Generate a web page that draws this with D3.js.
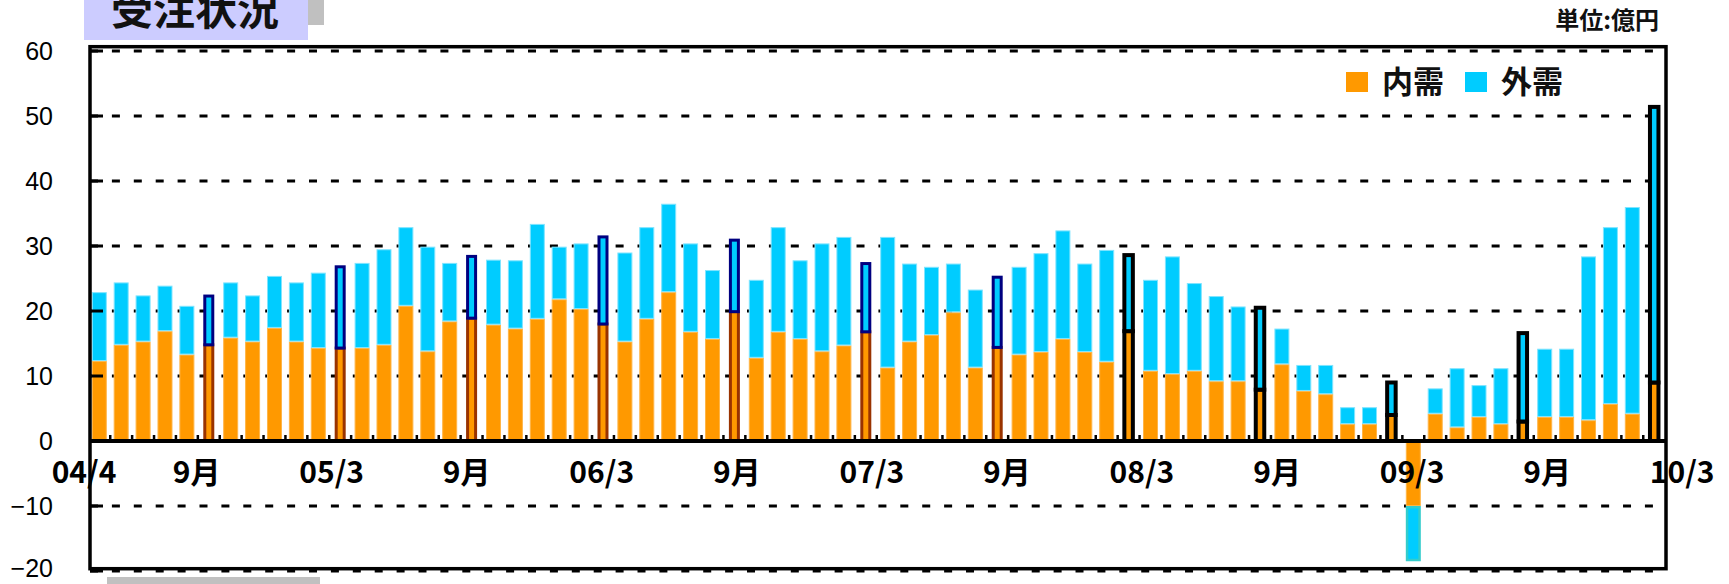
<!DOCTYPE html>
<html><head><meta charset="utf-8">
<script src="https://cdn.jsdelivr.net/npm/d3@7"></script>
<style>body{margin:0;background:#fff;} svg{display:block;background:#fff;}</style>
</head><body>
<svg id="c" width="1729" height="584"></svg>
<script>
// ---- data (億円), monthly Apr 2004 .. Mar 2010 ----
const domestic = [12.3,14.8,15.3,16.9,13.3,14.8,15.9,15.3,17.4,15.3,14.3,14.3,
  14.3,14.8,20.8,13.8,18.4,18.9,17.9,17.3,18.8,21.8,20.3,18.0,
  15.3,18.8,22.9,16.8,15.7,19.9,12.8,16.8,15.7,13.8,14.7,16.8,
  11.3,15.3,16.3,19.8,11.3,14.4,13.3,13.7,15.7,13.7,12.2,16.9,
  10.8,10.3,10.8,9.2,9.2,7.9,11.8,7.7,7.2,2.6,2.6,4.0,
  -10.0,4.2,2.1,3.7,2.6,3.0,3.7,3.7,3.2,5.7,4.2,9.0];
const foreign = [10.6,9.6,7.1,7.0,7.5,7.5,8.5,7.1,8.0,9.1,11.6,12.5,
  13.1,14.7,12.1,16.1,9.0,9.5,10.0,10.5,14.6,8.1,10.1,13.4,
  13.7,14.1,13.6,13.6,10.6,11.0,12.0,16.1,12.1,16.6,16.7,10.5,
  20.1,12.0,10.5,7.5,12.0,10.8,13.5,15.2,16.7,13.6,17.2,11.7,
  14.0,18.1,13.5,13.1,11.5,12.6,5.5,4.0,4.5,2.6,2.6,5.0,
  -8.5,3.9,9.1,4.9,8.6,13.6,10.5,10.5,25.2,27.2,31.8,42.4];
const seriesNames = ["内需", "外需"];
const tickIndex = [0,5,11,17,23,29,35,41,47,53,59,65,71];
const tickLabels = ["04/4","9月","05/3","9月","06/3","9月","07/3","9月","08/3","9月","09/3","9月","10/3"];
const yTicks = [-20,-10,0,10,20,30,40,50,60];
const months = d3.timeMonth.range(new Date(2004,3,1), new Date(2010,3,1));

const colors = {"内需": "#FF9900", "外需": "#00CCFF"};
const edge = {"内需": "#FFB547", "外需": "#7FE4FF"};

const svg = d3.select("#c");

// ---- title & unit ----
svg.append("rect").attr("x",308).attr("y",0).attr("width",16).attr("height",25).attr("fill","#C0C0C0");
svg.append("rect").attr("x",84).attr("y",0).attr("width",224).attr("height",40).attr("fill","#CCCCFF");
svg.append("text").attr("x",111).attr("y",25).text("受注状況")
  .attr("font-family","'Noto Sans CJK JP'").attr("font-weight",700).attr("font-size",42).attr("fill","#111");
svg.append("rect").attr("x",107).attr("y",577).attr("width",213).attr("height",7).attr("fill","#C0C0C0");
svg.append("text").attr("x",1659).attr("y",29).attr("text-anchor","end").text("単位:億円")
  .attr("font-family","'Noto Sans CJK JP'").attr("font-weight",700).attr("font-size",24).attr("fill","#111");

// ---- scales ----
const x = d3.scaleBand().domain(d3.range(months.length)).range([88.5,1665]).paddingInner(0.315).paddingOuter(0.15);
const y = d3.scaleLinear().domain([-20,60]).range([571,51]);
const labelX = d3.scaleLinear().domain([0, months.length-1]).range([83.5,1681.7]);
const L = 90, R = 1666;

// ---- gridlines (behind bars) ----
svg.append("g").selectAll("line").data(yTicks.filter(v => v !== 0)).join("line")
  .attr("x1",L).attr("x2",R).attr("y1",d=>y(d)).attr("y2",d=>y(d))
  .attr("stroke","#000").attr("stroke-width",3)
  .attr("stroke-dasharray",`8 ${x.step()-8}`);

// ---- stacked bars ----
const rows = months.map((m,i)=>({i, m, "内需": domestic[i], "外需": foreign[i]}));
const stack = d3.stack().keys(seriesNames).offset(d3.stackOffsetDiverging)(rows);
const isHalf = d => d.data.m.getMonth() === 8 || d.data.m.getMonth() === 2;
const isLate = d => d.data.m >= new Date(2008,2,1);

stack.forEach(layer => {
  const key = layer.key;
  svg.append("g").selectAll("rect").data(layer).join("rect")
    .each(function(d){
      const sel = d3.select(this);
      const top = y(Math.max(d[0],d[1])), bot = y(Math.min(d[0],d[1]));
      const cx = x(d.data.i) + x.bandwidth()/2;
      if (isHalf(d)) {
        const late = isLate(d);
        const w = late ? 8.5 : 8, sw = late ? 4 : 3;
        const sc = late ? "#000" : (key === "外需" ? "#000080" : "#993300");
        sel.attr("x",cx-w/2).attr("width",w)
          .attr("y",top).attr("height",Math.max(0,bot-top))
          .attr("fill",colors[key]).attr("stroke",sc).attr("stroke-width",sw);
      } else {
        const neg = d.data[key] < 0 && key === "外需";
        const sw = neg ? 2.5 : 1;
        sel.attr("x",x(d.data.i)+sw/2).attr("width",x.bandwidth()-sw)
          .attr("y",top+sw/2).attr("height",Math.max(0,bot-top-sw))
          .attr("fill",colors[key]).attr("stroke",neg ? "#33CCCC" : edge[key]).attr("stroke-width",sw);
      }
    });
});

// ---- zero axis with category ticks ----
svg.append("line").attr("x1",L).attr("x2",R).attr("y1",y(0)).attr("y2",y(0)).attr("stroke","#000").attr("stroke-width",4);
svg.append("g").selectAll("line").data(d3.range(1, months.length)).join("line")
  .attr("x1",d=>x(d)-(x.step()-x.bandwidth())/2).attr("x2",d=>x(d)-(x.step()-x.bandwidth())/2)
  .attr("y1",y(0)).attr("y2",y(0)-6).attr("stroke","#000").attr("stroke-width",2.5);

// ---- inward y ticks ----
svg.append("g").selectAll("line").data(yTicks).join("line")
  .attr("x1",L).attr("x2",L+13).attr("y1",d=>y(d)).attr("y2",d=>y(d))
  .attr("stroke","#000").attr("stroke-width",3);

// ---- frame ----
svg.append("rect").attr("x",L).attr("y",y(60)-4.3).attr("width",R-L).attr("height",(y(-20)-2.3)-(y(60)-4.3))
  .attr("fill","none").attr("stroke","#000").attr("stroke-width",3.5);

// ---- y labels ----
const yAxis = svg.append("g").attr("transform",`translate(53,0)`)
  .call(d3.axisLeft(y).tickValues(yTicks).tickSize(0).tickPadding(0).tickFormat(d3.format("d")));
yAxis.select(".domain").remove();
yAxis.selectAll("text").attr("font-family","'Liberation Sans', Arial, sans-serif").attr("font-size",25).attr("fill","#000");
yAxis.selectAll(".tick").filter(d => d === -20).select("text").attr("dy","0.2em");

// ---- x labels ----
const xAxis = svg.append("g").attr("transform","translate(0,483)")
  .call(d3.axisBottom(labelX).tickValues(tickIndex).tickSize(0).tickPadding(0).tickFormat((d,i)=>tickLabels[i]));
xAxis.select(".domain").remove();
xAxis.selectAll("text").attr("y",0).attr("dy",null)
  .attr("font-family","'Noto Sans CJK JP'").attr("font-weight",700).attr("font-size",30).attr("fill","#000");

// ---- legend ----
const lg = svg.append("g").selectAll("g").data(seriesNames).join("g")
  .attr("transform",(d,i)=>`translate(${1346+i*119},0)`);
lg.append("rect").attr("x",0).attr("y",72).attr("width",22).attr("height",20).attr("fill",d=>colors[d]);
lg.append("text").attr("x",36).attr("y",93).text(d=>d)
  .attr("font-family","'Noto Sans CJK JP'").attr("font-weight",700).attr("font-size",31).attr("fill","#111");
</script>
</body></html>
